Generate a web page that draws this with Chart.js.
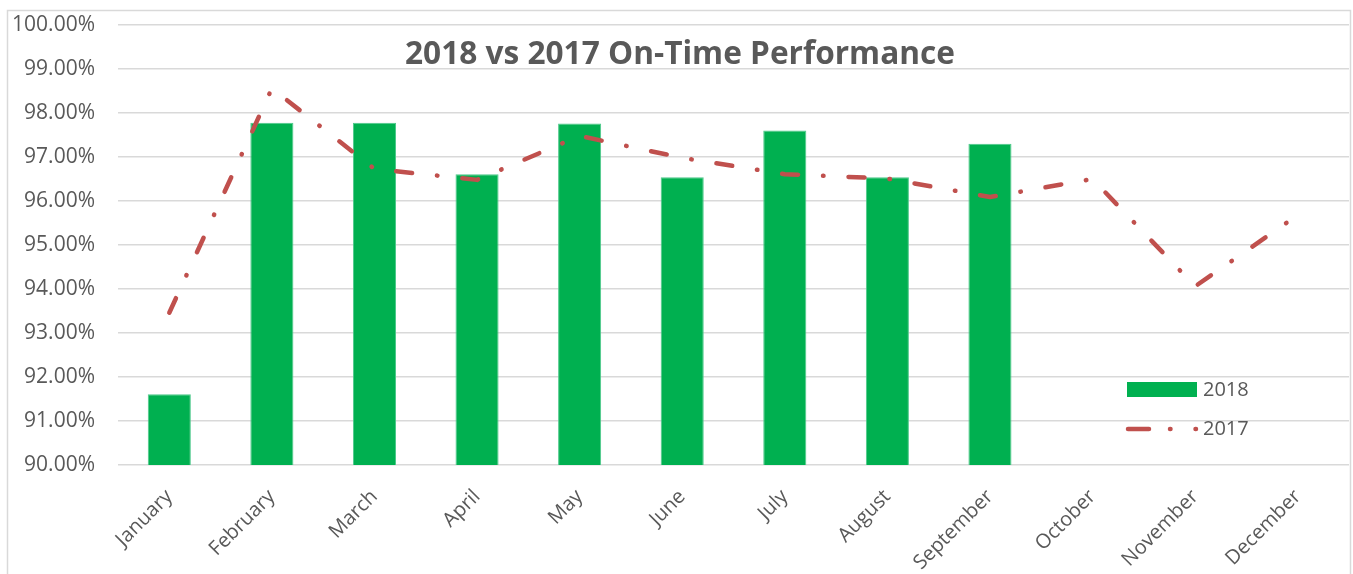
<!DOCTYPE html>
<html>
<head>
<meta charset="utf-8">
<title>2018 vs 2017 On-Time Performance</title>
<script src="https://cdn.jsdelivr.net/npm/chart.js@4.4.1/dist/chart.umd.min.js"></script>
<style>
    html, body { margin: 0; padding: 0; background: #ffffff; }
    #wrap { width: 1353px; height: 574px; }
</style>
</head>
<body>
<div id="wrap"><canvas id="otpChart" width="1353" height="574"></canvas></div>
<script>
// Chart data
const months = ['January', 'February', 'March', 'April', 'May', 'June',
                'July', 'August', 'September', 'October', 'November', 'December'];
const otp2018 = [91.61, 97.78, 97.78, 96.61, 97.76, 96.54, 97.60, 96.54, 97.30, null, null, null];
const otp2017 = [93.46, 98.56, 96.73, 96.48, 97.48, 96.98, 96.61, 96.51, 96.09, 96.50, 94.06, 95.68];
const yMin = 90;
const yMax = 100;
const yStep = 1;
const seriesNames = ['2018', '2017'];
const chartTitle = '2018 vs 2017 On-Time Performance';

const GREEN = '#00B050';
const RED = '#C0504D';
const TEXT = '#595959';
const GRID = '#d9d9d9';
const LINE_DASH = [16, 25, 0.5, 25];

Chart.defaults.font.family = '"Open Sans", "DejaVu Sans", sans-serif';
Chart.defaults.color = TEXT;

// outer frame of the chart object
const framePlugin = {
    id: 'frame',
    beforeDraw(chart) {
        const ctx = chart.ctx;
        ctx.save();
        ctx.strokeStyle = GRID;
        ctx.lineWidth = 1.5;
        ctx.strokeRect(7.5, 10.5, 1343, 600);
        ctx.restore();
    }
};

// title sits inside the plot area, like Excel draws it
const titlePlugin = {
    id: 'overlayTitle',
    afterDraw(chart) {
        const ctx = chart.ctx;
        ctx.save();
        ctx.font = 'bold 33px "Open Sans"';
        ctx.fillStyle = TEXT;
        ctx.textAlign = 'center';
        ctx.textBaseline = 'middle';
        const w = ctx.measureText(chartTitle).width;
        ctx.translate(680, 55);
        ctx.scale(550 / w, 1);
        ctx.fillText(chartTitle, 0, 0);
        ctx.restore();
    }
};

// legend in the lower right corner of the plot
const legendPlugin = {
    id: 'cornerLegend',
    afterDraw(chart) {
        const ctx = chart.ctx;
        ctx.save();
        ctx.font = '20px "Open Sans"';
        ctx.textBaseline = 'middle';
        ctx.textAlign = 'left';

        ctx.fillStyle = GREEN;
        ctx.fillRect(1127, 382, 70, 15);
        ctx.fillStyle = TEXT;
        ctx.fillText(seriesNames[0], 1203, 390);

        ctx.strokeStyle = RED;
        ctx.lineWidth = 4.5;
        ctx.lineCap = 'round';
        ctx.setLineDash([21, 21, 0.5, 25, 0.5, 100]);
        ctx.beginPath();
        ctx.moveTo(1128, 429);
        ctx.lineTo(1197, 429);
        ctx.stroke();
        ctx.setLineDash([]);
        ctx.fillText(seriesNames[1], 1203, 429);
        ctx.restore();
    }
};

const ctx = document.getElementById('otpChart');

new Chart(ctx, {
    data: {
        labels: months,
        datasets: [
            {
                type: 'bar',
                label: seriesNames[0],
                data: otp2018,
                backgroundColor: GREEN,
                borderColor: '#4cc98a',
                borderWidth: 1,
                barPercentage: 0.42,
                categoryPercentage: 1,
                order: 2
            },
            {
                type: 'line',
                label: seriesNames[1],
                data: otp2017,
                borderColor: RED,
                borderWidth: 4.5,
                borderDash: LINE_DASH,
                borderCapStyle: 'round',
                borderJoinStyle: 'round',
                pointRadius: 0,
                pointHoverRadius: 0,
                tension: 0,
                fill: false,
                order: 1
            }
        ]
    },
    options: {
        responsive: false,
        animation: false,
        devicePixelRatio: 1,
        layout: {
            padding: { left: 0, top: 25, right: 4, bottom: 0 }
        },
        plugins: {
            legend: { display: false },
            title: { display: false },
            tooltip: { enabled: false }
        },
        scales: {
            x: {
                offset: true,
                grid: { display: false },
                border: { display: false },
                ticks: {
                    color: TEXT,
                    font: { size: 20 },
                    maxRotation: 45,
                    minRotation: 45,
                    padding: 12,
                    autoSkip: false
                },
                afterFit(scale) { scale.height = 109; }
            },
            y: {
                min: yMin,
                max: yMax,
                grid: {
                    color: GRID,
                    lineWidth: 1.4,
                    drawTicks: false
                },
                border: { display: false },
                ticks: {
                    stepSize: yStep,
                    color: TEXT,
                    font: { size: 21 },
                    padding: 23,
                    callback: function(value) {
                        return value.toFixed(2) + '%';
                    }
                },
                afterFit(scale) {
                    scale.width = 118;
                    // tick padding would otherwise push the plot top down
                    scale.paddingTop = 0;
                    scale.paddingBottom = 0;
                }
            }
        }
    },
    plugins: [framePlugin, titlePlugin, legendPlugin]
});
</script>
</body>
</html>
